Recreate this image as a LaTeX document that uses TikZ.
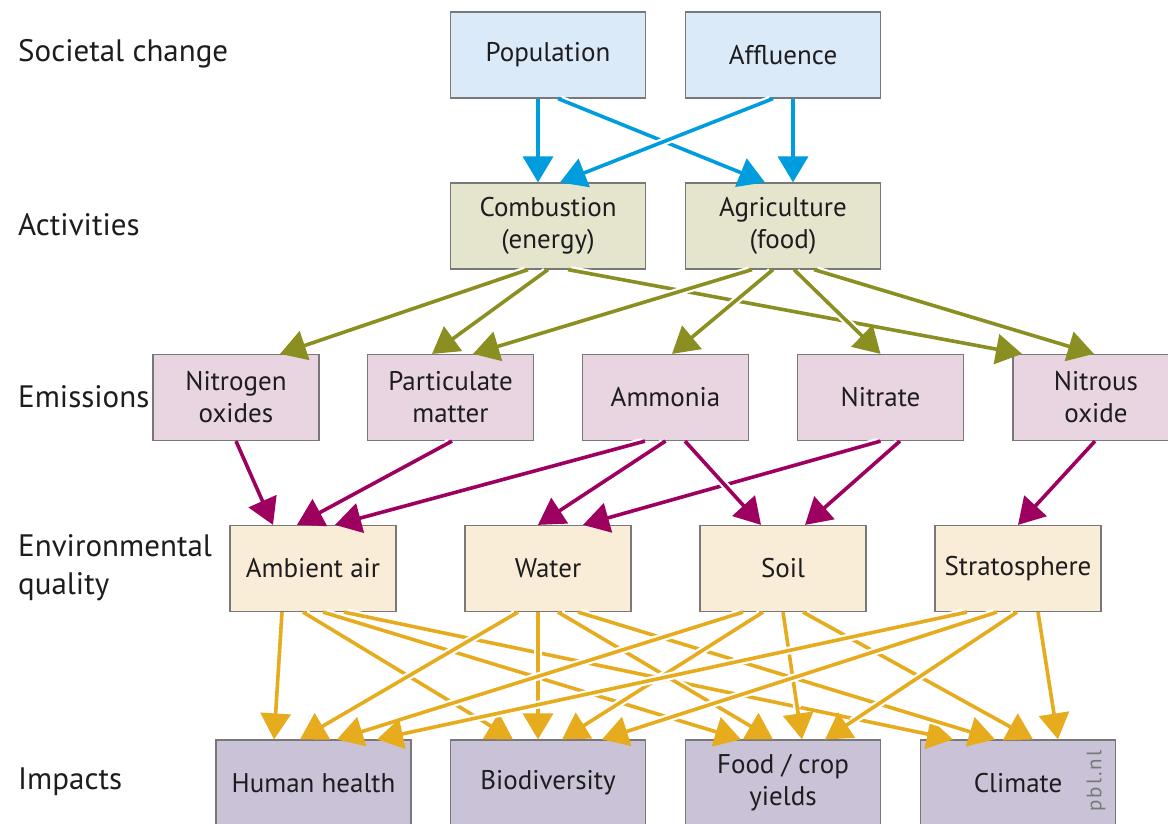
\documentclass[tikz,border=0pt]{standalone}
\usepackage{fontspec}
\setmainfont{PT Sans}
\usetikzlibrary{arrows.meta}
\definecolor{cblue}{RGB}{0,157,222}
\definecolor{colive}{RGB}{139,142,32}
\definecolor{cpurple}{RGB}{158,0,96}
\definecolor{cyellow}{RGB}{230,172,30}
\definecolor{cpop}{RGB}{219,234,249}
\definecolor{cact}{RGB}{229,229,206}
\definecolor{cemi}{RGB}{232,213,225}
\definecolor{cenv}{RGB}{250,237,215}
\definecolor{cimp}{RGB}{202,195,216}
\definecolor{boxgray}{RGB}{120,120,120}
\definecolor{txt}{RGB}{30,28,30}
\newcommand{\lblfont}{\fontsize{31}{38}\selectfont}
\newcommand{\boxfont}{\fontsize{27}{32}\selectfont}
\newcommand{\conn}[5]{\draw[arr,#1] ([xshift=#3pt]#2.south) -- ([xshift=#5pt]#4.north);}
\tikzset{
  box/.style={draw=boxgray, line width=1.2pt, minimum height=86pt, inner sep=0pt,
              align=center, text=txt, font=\boxfont},
  widebox/.style={box, minimum width=195pt},
  narrowbox/.style={box, minimum width=166pt},
  lbl/.style={anchor=west, inner sep=0pt, text=txt, font=\lblfont, align=left},
  arr/.style={line width=3.6pt, -{Triangle[length=26pt,width=30pt]},
              preaction={draw=white, line width=8pt, -, shorten >=32pt, shorten <=3pt}}
}
\begin{document}
\begin{tikzpicture}[x=1pt,y=-1pt]
\useasboundingbox[fill=white] (0,0) rectangle (1168,823);
% row labels
\node[lbl] (l1) at (18,54) {Societal change};
\node[lbl] (l2) at (18,225) {Activities};
\node[lbl] (l3) at (18,397) {Emissions};
\node[lbl] (l4) at (18,568) {Environmental\\quality};
\node[lbl] (l5) at (18,782) {Impacts};
% boxes
\node[widebox, fill=cpop] (pop) at (548,55) {Population};
\node[widebox, fill=cpop] (aff) at (783,55) {Affluence};
\node[widebox, fill=cact] (comb) at (548,226) {Combustion\\(energy)};
\node[widebox, fill=cact] (agri) at (783,226) {Agriculture\\(food)};
\node[narrowbox, fill=cemi] (nox) at (236,397.5) {Nitrogen\\oxides};
\node[narrowbox, fill=cemi] (pm) at (450.5,397.5) {Particulate\\matter};
\node[narrowbox, fill=cemi] (amm) at (665.5,397.5) {Ammonia};
\node[narrowbox, fill=cemi] (nit) at (880.5,397.5) {Nitrate};
\node[narrowbox, fill=cemi] (n2o) at (1096,397.5) {Nitrous\\oxide};
\node[narrowbox, fill=cenv] (amb) at (313,568.5) {Ambient air};
\node[narrowbox, fill=cenv] (wat) at (548,568.5) {Water};
\node[narrowbox, fill=cenv] (soil) at (783,568.5) {Soil};
\node[narrowbox, fill=cenv] (strat) at (1018,568.5) {Stratosphere};
\node[widebox, fill=cimp] (hum) at (313.5,783) {Human health};
\node[widebox, fill=cimp] (bio) at (548,783) {Biodiversity};
\node[widebox, fill=cimp] (food) at (783,783) {Food / crop\\yields};
\node[widebox, fill=cimp] (clim) at (1018,783) {Climate};
\node[rotate=90, text=boxgray, inner sep=0pt,
      font=\fontsize{21}{21}\selectfont\addfontfeatures{LetterSpace=10}] (pbl) at (1096,781) {pbl.nl};
% societal change -> activities
\conn{cblue}{pop}{-10}{comb}{-10}
\conn{cblue}{pop}{10}{agri}{-18}
\conn{cblue}{aff}{-10}{comb}{12}
\conn{cblue}{aff}{10}{agri}{10}
% activities -> emissions
\conn{colive}{comb}{20}{n2o}{-74}
\conn{colive}{comb}{-20}{nox}{44}
\conn{colive}{comb}{0}{pm}{-18.5}
\conn{colive}{agri}{-31}{pm}{22.5}
\conn{colive}{agri}{-10}{amm}{6.5}
\conn{colive}{agri}{11}{nit}{0}
\conn{colive}{agri}{31}{n2o}{-2}
% emissions -> environmental quality
\conn{cpurple}{nox}{0}{amb}{-40}
\conn{cpurple}{pm}{1.5}{amb}{-16}
\conn{cpurple}{nit}{0}{wat}{35}
\conn{cpurple}{amm}{-20.5}{amb}{22}
\conn{cpurple}{amm}{0}{wat}{-10}
\conn{cpurple}{amm}{19.5}{soil}{-22}
\conn{cpurple}{nit}{19.5}{soil}{22}
\conn{cpurple}{n2o}{-1}{strat}{0}
% environmental quality -> impacts
\conn{cyellow}{amb}{-31}{hum}{-39.5}
\conn{cyellow}{amb}{-10}{bio}{-35}
\conn{cyellow}{amb}{10}{food}{-42}
\conn{cyellow}{amb}{31}{clim}{-65}
\conn{cyellow}{wat}{-30}{hum}{-13.5}
\conn{cyellow}{wat}{-10}{bio}{-10}
\conn{cyellow}{wat}{10}{food}{-10}
\conn{cyellow}{wat}{30}{clim}{-23}
\conn{cyellow}{soil}{-40}{hum}{23.5}
\conn{cyellow}{soil}{-20}{bio}{14}
\conn{cyellow}{soil}{0}{food}{19}
\conn{cyellow}{soil}{20}{clim}{15}
\conn{cyellow}{strat}{-51}{hum}{63.5}
\conn{cyellow}{strat}{-21}{bio}{54}
\conn{cyellow}{strat}{-1}{food}{42}
\conn{cyellow}{strat}{20}{clim}{40}
\end{tikzpicture}
\end{document}
